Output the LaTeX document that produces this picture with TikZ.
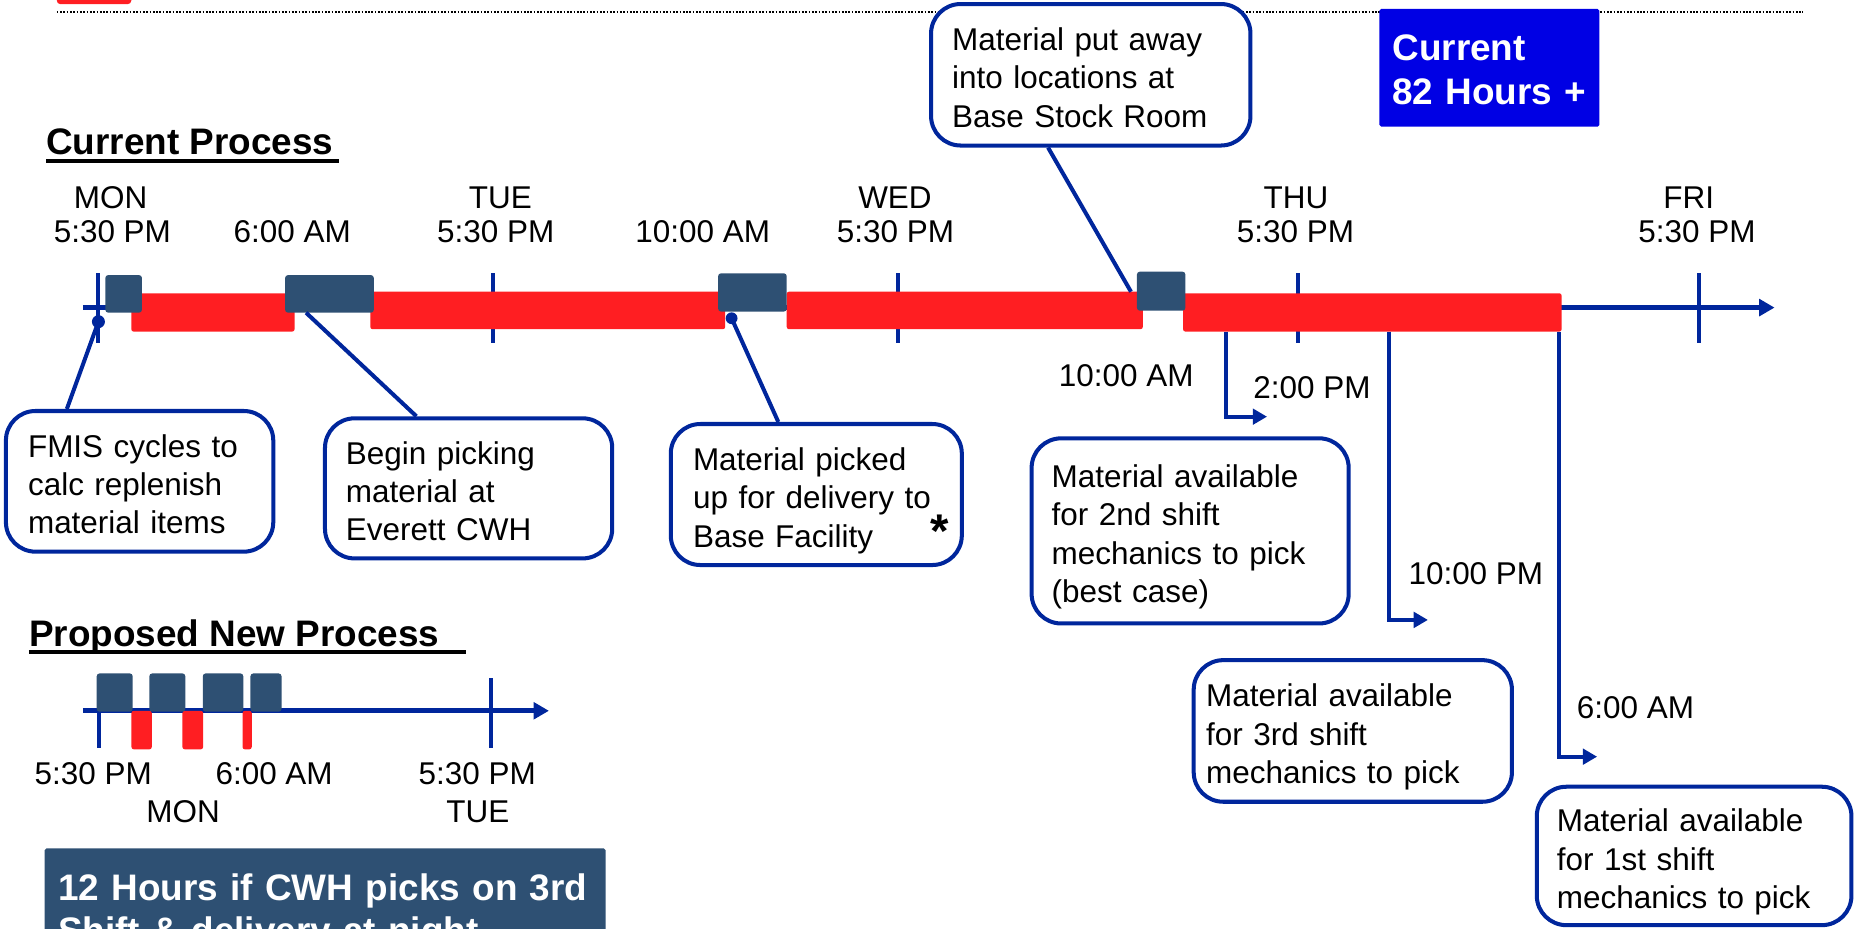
\documentclass[tikz,border=0pt]{standalone}
\usepackage{fontspec}
\setmainfont{Liberation Sans}
\usetikzlibrary{arrows.meta}

\definecolor{lineblue}{RGB}{0,38,156}
\definecolor{slate}{RGB}{46,80,115}
\definecolor{barred}{RGB}{255,30,34}
\definecolor{hourblue}{RGB}{0,0,228}

\newcommand\bodyfont{\fontsize{26.6}{32.4}\selectfont}
\newcommand\headfont{\fontsize{31.2}{37}\selectfont\bfseries}

\tikzset{
  lbl/.style={font=\bodyfont, inner sep=0pt, anchor=base},
  head/.style={font=\headfont, inner sep=0pt, anchor=base west},
  headrule/.style={draw=black, line width=3.6pt},
  axisarrow/.style={draw=lineblue, line width=4.2pt, -{Triangle[length=13pt,width=14pt]}},
  tickmark/.style={draw=lineblue, line width=3.4pt},
  redbar/.style={fill=barred, rounded corners=2pt},
  slatebar/.style={fill=slate, rounded corners=2.5pt},
  conn/.style={draw=lineblue, line width=3.4pt},
  elbow/.style={draw=lineblue, line width=3.6pt, -{Triangle[length=12pt,width=13pt]}},
  cbox/.style n args={5}{draw=lineblue, line width=3.4pt, fill=white,
    rounded corners=25pt, font=\bodyfont, align=left,
    minimum width=#1, minimum height=#2, inner xsep=#3, text width=#4,
    text height=24pt, text depth=#5},
}

\begin{document}
\begin{tikzpicture}[x=1pt, y=-1pt]
\useasboundingbox (0,0) rectangle (1568,785);
\clip (0,0) rectangle (1568,785);

% page header: red tab and dotted rule
\fill[barred, rounded corners=3pt] (48,-10) rectangle (111,3.5);
\draw[black, line width=1.6pt, dash pattern=on 1.4pt off 1.4pt] (48,10.5) -- (1524,10.5);

% ---------------- current process timeline ----------------
\node[head] (hCur) at (38.9,131) {Current Process};
\draw[headrule] ([yshift=-4.8pt]hCur.base west) -- ++(247.8,0);

\coordinate (axA) at (70,260);
\coordinate (axB) at (1500,260);
\draw[axisarrow] (axA) -- (axB);
\foreach \x in {83,417,759,1097,1436}
  \draw[tickmark] (\x,231) -- (\x,290);

% transit (red) and handling (slate) blocks
\fill[redbar] (111,247.9) rectangle (249,280.3);
\fill[redbar] (313,246.5) rectangle (613,278.3);
\fill[redbar] (665,246.5) rectangle (966,278.3);
\fill[redbar] (1000,247.9) rectangle (1320,280.3);
\fill[slatebar] (89,232.5) rectangle (120,264.3);
\fill[slatebar] (241,232.5) rectangle (316,264.3);
\fill[slatebar] (607,231) rectangle (665,263.4);
\fill[slatebar] (961,229.6) rectangle (1002,262.6);

% day and time labels
\node[lbl] (dMon) at (93.5,176.3) {MON};
\node[lbl] (tMon) at (95,205.3) {5:30 PM};
\node[lbl] (tMonAm) at (247,205.3) {6:00 AM};
\node[lbl] (dTue) at (423,176.3) {TUE};
\node[lbl] (tTue) at (419,205.3) {5:30 PM};
\node[lbl] (tTueAm) at (594,205.3) {10:00 AM};
\node[lbl] (dWed) at (756.5,176.3) {WED};
\node[lbl] (tWed) at (757,205.3) {5:30 PM};
\node[lbl] (dThu) at (1095.5,176.3) {THU};
\node[lbl] (tThu) at (1095,205.3) {5:30 PM};
\node[lbl] (dFri) at (1427.5,176.3) {FRI};
\node[lbl] (tFri) at (1434.5,205.3) {5:30 PM};
\node[lbl] (tThuAm) at (952,326.5) {10:00 AM};
\node[lbl] (tPm2) at (1109,337) {2:00 PM};
\node[lbl] (tPm10) at (1247.5,494) {10:00 PM};
\node[lbl] (tAm6) at (1382.5,607) {6:00 AM};

% anchor points of the callout leaders on the timeline
\coordinate (fmisDot) at (83.2,271.9);
\coordinate (pickPt) at (258.7,264.3);
\coordinate (delivDot) at (618.4,269);
\coordinate (putPt) at (956,246.6);

% availability leaders
\coordinate (av2a) at (1036.6,280.3);
\coordinate (av2b) at (1071,352.2);
\coordinate (av3a) at (1174,280.3);
\coordinate (av3b) at (1207,524);
\coordinate (av1a) at (1318,280.3);
\coordinate (av1b) at (1350,639.6);
\draw[elbow] (av2a) |- (av2b);
\draw[elbow] (av3a) |- (av3b);
\draw[elbow] (av1a) |- (av1b);

% callouts
\node[cbox={226pt}{118.9pt}{18.7pt}{188.6pt}{64.8pt}] (cFmis) at (118,406.85)
  {FMIS cycles to\\calc replenish\\material items};
\node[cbox={242.8pt}{118.4pt}{17.7pt}{207.4pt}{64.8pt}] (cPick) at (396.1,412.8)
  {Begin picking\\material at\\Everett CWH};
\node[cbox={246pt}{119.2pt}{18.8pt}{208.4pt}{64.8pt}] (cDeliv) at (690,418)
  {Material picked\\up for delivery to\\Base Facility};
\node[cbox={270pt}{119.6pt}{17.8pt}{234.4pt}{64.8pt}] (cPut) at (922,63.2)
  {Material put away\\into locations at\\Base Stock Room};
\node[cbox={268pt}{156.5pt}{17pt}{234pt}{97.2pt}] (cAv2) at (1006,448.75)
  {Material available\\for 2nd shift\\mechanics to pick\\(best case)};
\node[cbox={269pt}{119.7pt}{10.5pt}{248pt}{64.8pt}] (cAv3) at (1143.5,617.85)
  {Material available\\for 3rd shift\\mechanics to pick};
\node[cbox={266pt}{117pt}{17pt}{232pt}{64.8pt}] (cAv1) at (1432,723.5)
  {Material available\\for 1st shift\\mechanics to pick};
\node[font=\fontsize{40}{44}\selectfont\bfseries, inner sep=0pt] (ast) at (794.6,449) {*};

% callout leaders
\draw[conn] (fmisDot) -- ([xshift=53.2pt]cFmis.north west);
\draw[conn] (pickPt) -- ([xshift=79pt]cPick.north west);
\draw[conn] (delivDot) -- ([xshift=92.6pt]cDeliv.north west);
\draw[conn] ([xshift=100.6pt]cPut.south west) -- (putPt);
\fill[lineblue] (fmisDot) circle (5.5pt);
\fill[lineblue] (delivDot) circle (5pt);

% total duration
\node[fill=hourblue, text=white, font=\headfont, align=left, rounded corners=1.5pt,
  minimum width=186pt, minimum height=99.4pt, inner xsep=11pt, text width=164pt,
  text height=25pt, text depth=37pt] (cur) at (1259,57.3) {Current\\82 Hours +};

% ---------------- proposed process timeline ----------------
\node[head] (hNew) at (24.5,546.7) {Proposed New Process};
\draw[headrule] ([yshift=-4.7pt]hNew.base west) -- ++(369.1,0);

\coordinate (pxA) at (70,600.8);
\coordinate (pxB) at (464,600.8);
\draw[axisarrow] (pxA) -- (pxB);
\draw[tickmark] (83.4,572) -- (83.4,632.6);
\draw[tickmark] (415.3,573.4) -- (415.3,632.6);

\fill[redbar] (111.1,600.8) rectangle (128.3,633.4);
\fill[redbar] (154.2,600.8) rectangle (171.7,633.4);
\fill[redbar] (205,600.8) rectangle (212.8,633.4);
\fill[slatebar] (81.7,569.2) rectangle (112.2,601.6);
\fill[slatebar] (126.2,569.2) rectangle (156.7,601.6);
\fill[slatebar] (171.4,569.2) rectangle (205.7,601.6);
\fill[slatebar] (211.7,569.2) rectangle (238,601.6);

\node[lbl] (pT1) at (78.9,663.2) {5:30 PM};
\node[lbl] (pT2) at (231.7,663.2) {6:00 AM};
\node[lbl] (pT3) at (403.4,663.2) {5:30 PM};
\node[lbl] (pD1) at (154.8,695.5) {MON};
\node[lbl] (pD2) at (403.9,695.5) {TUE};

\node[anchor=north west, fill=slate, text=white, font=\headfont, align=left,
  rounded corners=1.5pt, inner xsep=11.5pt, inner ysep=21.4pt, text width=451.2pt,
  text height=22.3pt, text depth=60pt] (twelve) at (37.5,717)
  {12 Hours if CWH picks on 3rd\\Shift \& delivery at night};
\end{tikzpicture}
\end{document}
